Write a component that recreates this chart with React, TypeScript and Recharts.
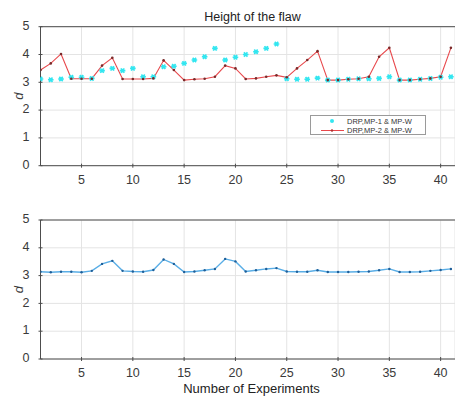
import React from 'react';
import { LineChart, Line, XAxis, YAxis, CartesianGrid, ReferenceLine } from 'recharts';

const experiments = [
  1, 2, 3, 4, 5, 6, 7, 8, 9, 10, 11, 12, 13, 14, 15, 16, 17, 18, 19, 20, 21,
  22, 23, 24, 25, 26, 27, 28, 29, 30, 31, 32, 33, 34, 35, 36, 37, 38, 39, 40, 41,
];

const mp1 = [
  3.12, 3.09, 3.12, 3.18, 3.18, 3.14, 3.42, 3.5, 3.42, 3.5, 3.2, 3.2, 3.56, 3.58,
  3.68, 3.8, 3.92, 4.22, 3.8, 3.9, 4.0, 4.1, 4.22, 4.38, 3.13, 3.11, 3.11, 3.15,
  3.08, 3.08, 3.11, 3.13, 3.13, 3.14, 3.2, 3.08, 3.08, 3.11, 3.14, 3.18, 3.2,
];

const mp2 = [
  3.44, 3.68, 4.02, 3.13, 3.13, 3.13, 3.6, 3.88, 3.12, 3.12, 3.12, 3.14, 3.79, 3.44,
  3.08, 3.11, 3.13, 3.2, 3.6, 3.5, 3.12, 3.14, 3.2, 3.25, 3.18, 3.5, 3.8, 4.12,
  3.08, 3.08, 3.11, 3.13, 3.2, 3.92, 4.24, 3.08, 3.08, 3.11, 3.14, 3.2, 4.24,
];

const combined = [
  3.14, 3.12, 3.14, 3.14, 3.12, 3.17, 3.42, 3.53, 3.17, 3.15, 3.14, 3.2, 3.58, 3.42,
  3.13, 3.15, 3.19, 3.24, 3.6, 3.51, 3.15, 3.19, 3.24, 3.27, 3.15, 3.14, 3.14, 3.19,
  3.13, 3.13, 3.13, 3.14, 3.15, 3.19, 3.24, 3.13, 3.13, 3.14, 3.17, 3.2, 3.24,
];

const xTicks = [5, 10, 15, 20, 25, 30, 35, 40];
const yTicks = [0, 1, 2, 3, 4, 5];

const topData = experiments.map((x, i) => ({ x, mp1: mp1[i], mp2: mp2[i] }));
const bottomData = experiments.map((x, i) => ({ x, d: combined[i] }));

const FONT = '"Liberation Sans", Arial, sans-serif';
const TEXT = '#3a3a3a';
const AXIS = '#4d4d4d';

const XTick = (props: any) => {
  const { x, y, payload } = props;
  return (
    <g>
      <line x1={x} y1={y} x2={x} y2={y - 4} stroke={AXIS} />
      <text x={x} y={y + 13} textAnchor="middle" dominantBaseline="middle" fontSize={12.5} fontFamily={FONT} fill={TEXT}>
        {payload.value}
      </text>
    </g>
  );
};

const YTick = (props: any) => {
  const { x, y, payload } = props;
  return (
    <g>
      <line x1={x} y1={y} x2={x + 4} y2={y} stroke={AXIS} />
      <text x={x - 9} y={y} textAnchor="end" dominantBaseline="middle" fontSize={12.5} fontFamily={FONT} fill={TEXT}>
        {payload.value}
      </text>
    </g>
  );
};

const YLabel = (props: any) => {
  const { viewBox } = props;
  const cy = viewBox.y + viewBox.height / 2;
  return (
    <text x={20} y={cy} transform={`rotate(-90 20 ${cy})`} textAnchor="middle" dominantBaseline="middle" fontSize={13} fontStyle="italic" fontFamily={FONT} fill={TEXT}>
      d
    </text>
  );
};

const Star = (props: any) => {
  const { cx, cy } = props;
  if (cx == null || cy == null) return null;
  const s = 2.8;
  return (
    <g stroke="#33e6f0" strokeWidth={1.6}>
      <line x1={cx - s} y1={cy} x2={cx + s} y2={cy} />
      <line x1={cx - s * 0.6} y1={cy - s * 0.8} x2={cx + s * 0.6} y2={cy + s * 0.8} />
      <line x1={cx - s * 0.6} y1={cy + s * 0.8} x2={cx + s * 0.6} y2={cy - s * 0.8} />
      <circle cx={cx} cy={cy} r={1.8} fill="#33e6f0" stroke="none" />
    </g>
  );
};

const axes = (
  <>
    <CartesianGrid stroke="#e4e4e4" />
  </>
);

export default function App() {
  return (
    <div style={{ position: 'absolute', left: 0, top: 0, width: 455, height: 396, background: '#fff' }}>
      <div
        style={{
          position: 'absolute', left: 0, width: 505, top: 10, textAlign: 'center',
          fontFamily: FONT, fontSize: 12.5, color: '#222',
        }}
      >
        Height of the flaw
      </div>

      <div style={{ position: 'absolute', left: 0, top: 0 }}>
        <LineChart width={455} height={200} data={topData} margin={{ top: 26.7, right: 0, bottom: 0, left: 0 }}>
          {axes}
          <XAxis
            dataKey="x" type="number" domain={[1, 41.4]} ticks={xTicks} allowDataOverflow
            height={34.3} tickSize={0} tickLine={false} tick={<XTick />} stroke={AXIS} interval={0}
          />
          <YAxis
            type="number" domain={[0, 5]} ticks={yTicks} width={40.5}
            tickSize={0} tickLine={false} tick={<YTick />} stroke={AXIS} label={<YLabel />} interval={0}
          />
          <ReferenceLine y={5} stroke={AXIS} />
          <Line dataKey="mp1" stroke="none" dot={<Star />} activeDot={false} isAnimationActive={false} />
          <Line
            dataKey="mp2" stroke="#e8484c" strokeWidth={1.1}
            dot={{ r: 1.3, fill: '#7a2a2a', stroke: 'none' }} activeDot={false} isAnimationActive={false}
          />
        </LineChart>
      </div>

      <div
        style={{
          position: 'absolute', left: 310, top: 115, width: 116, height: 20, border: '1px solid #9a9a9a',
          background: '#fff', fontFamily: FONT, fontSize: 7.5, color: '#333', boxSizing: 'border-box',
        }}
      >
        <div style={{ position: 'absolute', left: 36, top: 1 }}>DRP,MP-1 &amp; MP-W</div>
        <div style={{ position: 'absolute', left: 36, top: 9.5 }}>DRP,MP-2 &amp; MP-W</div>
        <svg width={34} height={20} style={{ position: 'absolute', left: 0, top: 0 }}>
          <circle cx={21} cy={5} r={2} fill="#33e6f0" />
          <line x1={10} y1={14.5} x2={33} y2={14.5} stroke="#e8484c" strokeWidth={1} />
          <circle cx={21} cy={14.5} r={1.2} fill="#b03030" />
        </svg>
      </div>

      <div style={{ position: 'absolute', left: 0, top: 196 }}>
        <LineChart width={455} height={200} data={bottomData} margin={{ top: 24, right: 0, bottom: 0, left: 0 }}>
          {axes}
          <XAxis
            dataKey="x" type="number" domain={[1, 41.4]} ticks={xTicks} allowDataOverflow
            height={37} tickSize={0} tickLine={false} tick={<XTick />} stroke={AXIS} interval={0}
          />
          <YAxis
            type="number" domain={[0, 5]} ticks={yTicks} width={40.5}
            tickSize={0} tickLine={false} tick={<YTick />} stroke={AXIS} label={<YLabel />} interval={0}
          />
          <ReferenceLine y={5} stroke={AXIS} />
          <Line
            dataKey="d" stroke="#5aaee6" strokeWidth={1.4}
            dot={{ r: 1.2, fill: '#1f5f99', stroke: 'none' }} activeDot={false} isAnimationActive={false}
          />
        </LineChart>
      </div>

      <div
        style={{
          position: 'absolute', left: 0, width: 503, top: 381, textAlign: 'center',
          fontFamily: FONT, fontSize: 13, color: '#222',
        }}
      >
        Number of Experiments
      </div>
    </div>
  );
}
